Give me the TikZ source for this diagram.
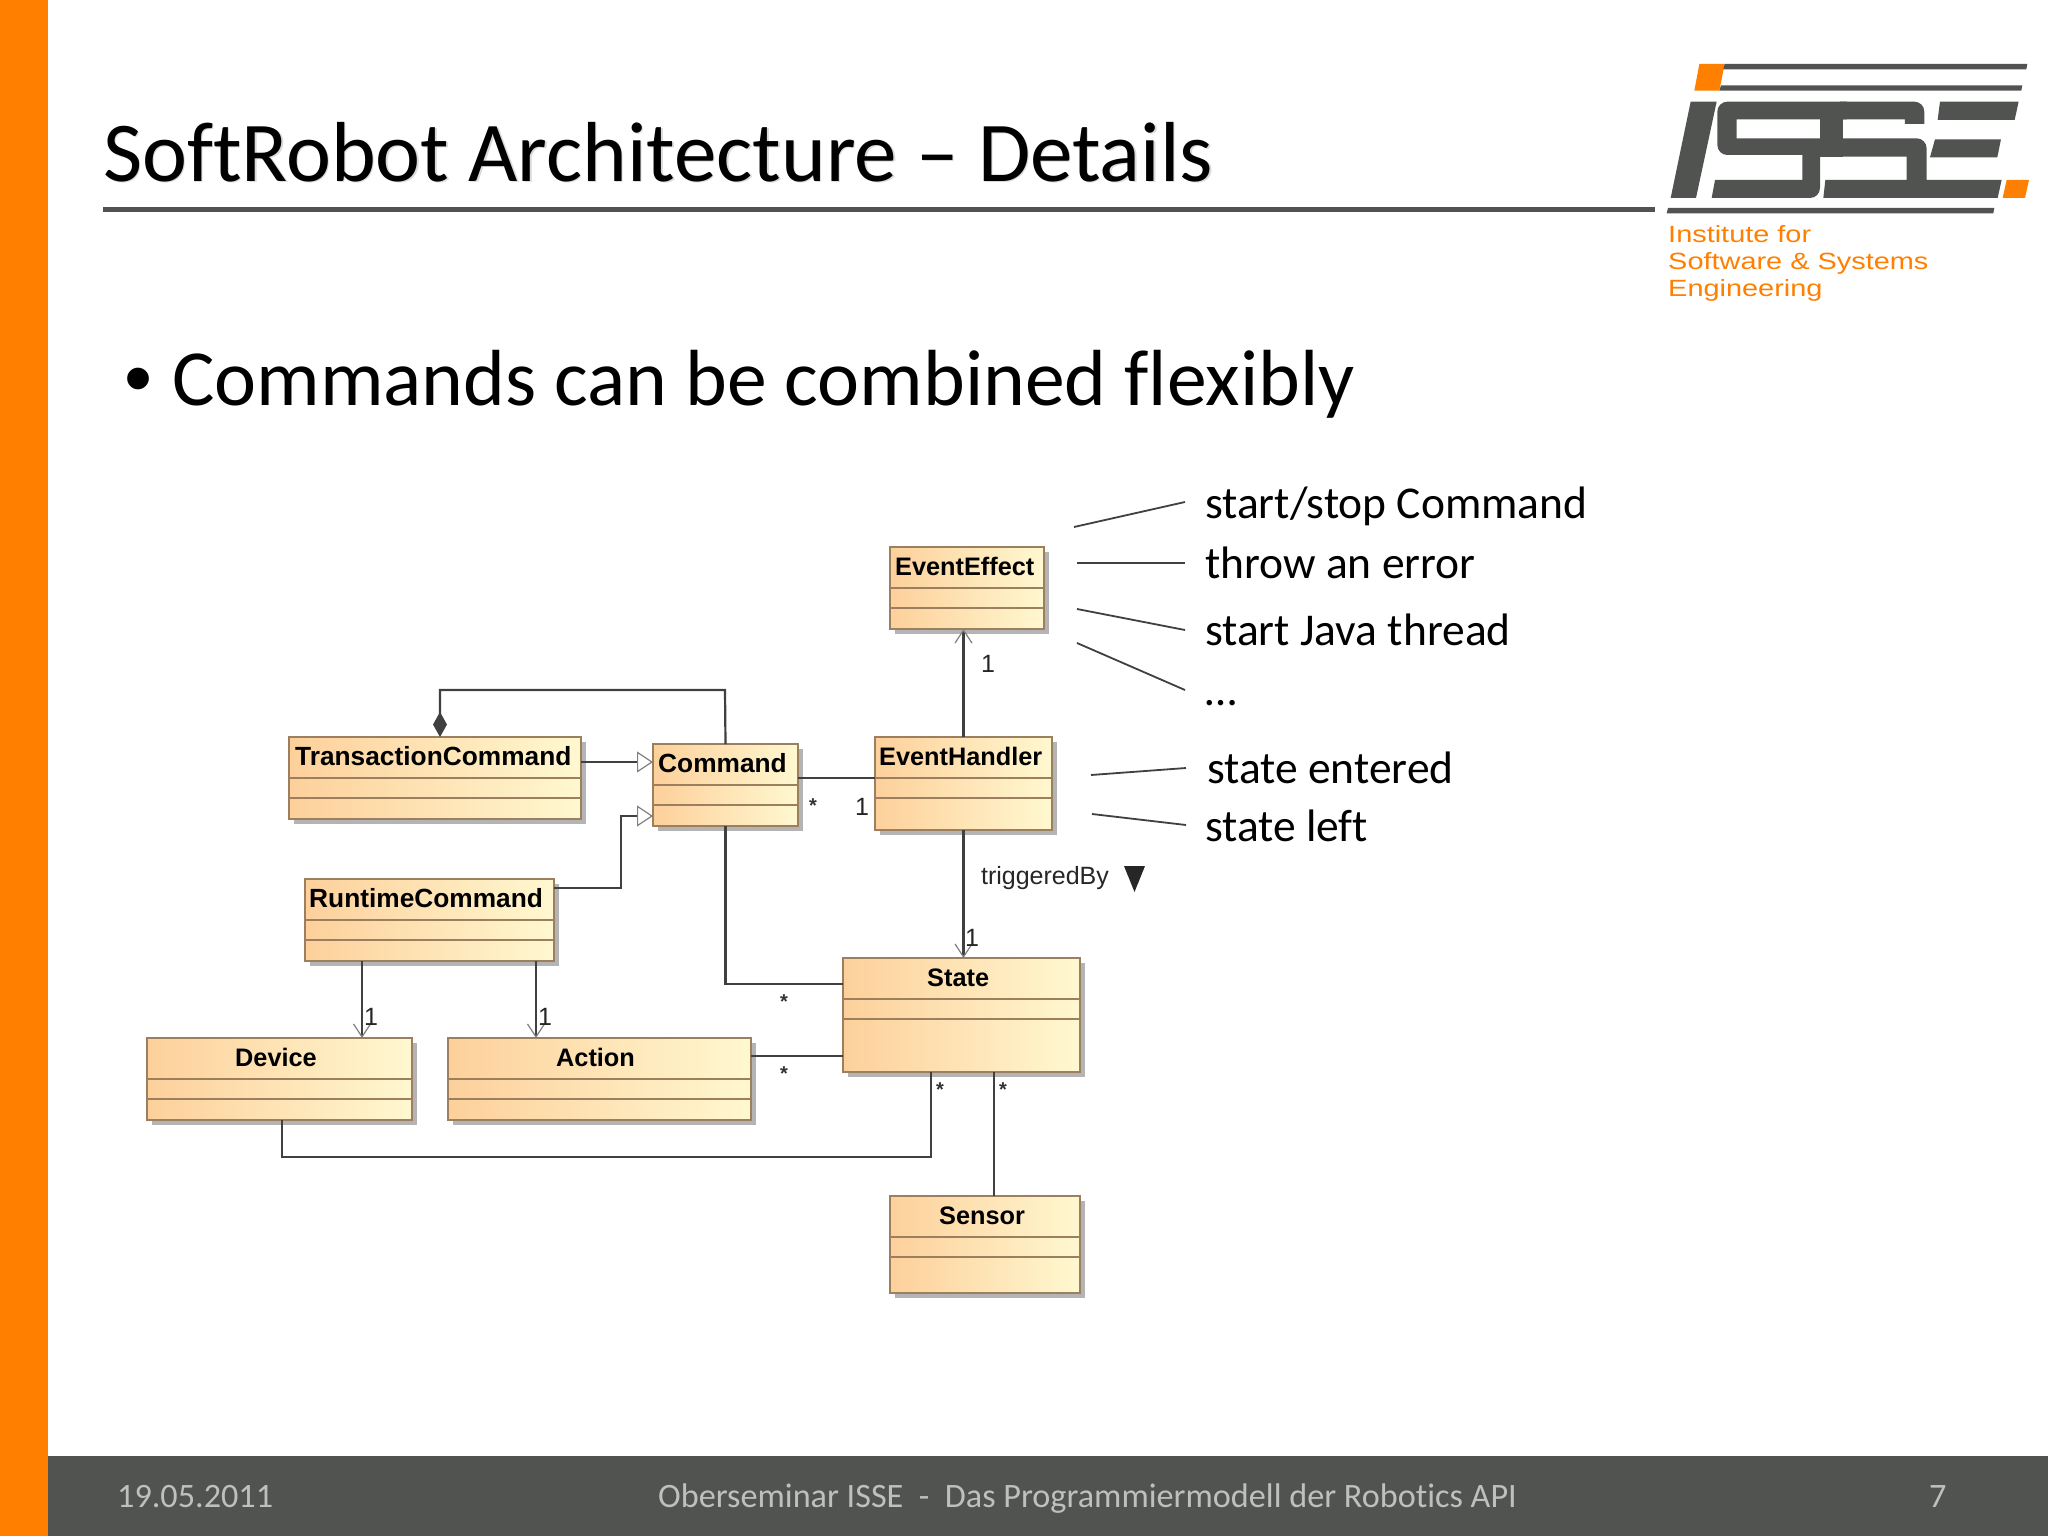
\documentclass[tikz,border=0pt]{standalone}
\usepackage{fontspec}
\setmainfont[Ligatures=NoCommon]{Carlito}
\newfontfamily\umlfont{Liberation Sans}
\newfontfamily\logofont[FakeStretch=1.23]{Liberation Sans}
\usetikzlibrary{positioning,arrows.meta}
\definecolor{issegray}{HTML}{505350}
\definecolor{isseorange}{HTML}{FF8000}
\definecolor{classleft}{HTML}{FDD09B}
\definecolor{classright}{HTML}{FFF8D0}
\definecolor{classedge}{HTML}{9C7F5F}
\definecolor{classshade}{HTML}{B4B4B4}
\definecolor{linkgray}{HTML}{404040}
\tikzstyle{classbox}=[draw=classedge,line width=2pt,left color=classleft,right color=classright,inner sep=0pt,outer sep=0pt,anchor=north west]
\tikzstyle{classshadow}=[fill=classshade,inner sep=0pt,outer sep=0pt,anchor=north west,xshift=5pt,yshift=-5pt]
\tikzstyle{classrule}=[draw=classedge,line width=2pt]
\tikzstyle{classtitle}=[font=\umlfont\bfseries\fontsize{25.3}{30}\selectfont,inner sep=0pt,anchor=base west,yshift=-28pt]
\tikzstyle{widetitle}=[font=\umlfont\bfseries\fontsize{26.3}{30}\selectfont]
\tikzstyle{link}=[draw=linkgray,line width=2.2pt]
\tikzstyle{mult}=[font=\umlfont\fontsize{25}{30}\selectfont,text=black!85,inner sep=0pt]
\tikzstyle{star}=[font=\umlfont\bfseries\fontsize{20}{24}\selectfont,text=black!80,inner sep=0pt,anchor=base]
\tikzstyle{note}=[font=\fontsize{45.5}{54}\selectfont,inner sep=0pt,anchor=west]
\tikzstyle{noteline}=[draw=linkgray,line width=1.8pt]
\tikzstyle{footer}=[font=\fontsize{34.2}{40}\selectfont,text=black!25,inner sep=0pt,anchor=base west]
\tikzstyle{logotext}=[font=\logofont\fontsize{23.5}{27}\selectfont,text=isseorange,inner sep=0pt,anchor=base west]
\newcommand{\newClass}[6]{
  \node[classshadow,minimum width=#4pt,minimum height=#5pt](#1-shadow) at (#3){};
  \node[classbox,minimum width=#4pt,minimum height=#5pt](#1) at (#3){};
  \draw[classrule] ([yshift=-41pt]#1.north west) -- ([yshift=-41pt]#1.north east);
  \draw[classrule] ([yshift=-61pt]#1.north west) -- ([yshift=-61pt]#1.north east);
  \node[classtitle,#6](#1-title) at (#1.north west){#2};
}
\newcommand{\newNote}[3]{
  \node[note](#1) at (#2){#3};
}
\begin{document}
\begin{tikzpicture}[x=1pt,y=-1pt,
    navi/.style={-{Straight Barb[length=13pt,width=17pt,color=gray,line width=1.2pt]}},
    inherit/.style={-{Triangle[open,length=16pt,width=21pt,color=gray,line width=1.2pt,fill=white]}},
    compose/.style={{Diamond[length=25pt,width=14pt,color=linkgray]}-}
    ]
    \useasboundingbox (0,0) rectangle (2048,1536);
    \fill[white] (0,0) rectangle (2048,1536);
    \fill[issegray] (48,1456) rectangle (2048,1536);
    \fill[isseorange] (0,0) rectangle (48,1536);
    \fill[issegray] (103,207) rectangle (1655,212);
    \node[font=\fontsize{85.2}{100}\selectfont,text=black!14,inner sep=0pt,anchor=base west](titleshade) at (104.5,182.5){SoftRobot Architecture – Details};
    \node[font=\fontsize{85.2}{100}\selectfont,inner sep=0pt,anchor=base west](title) at (103,181){SoftRobot Architecture – Details};
    \node[font=\umlfont\fontsize{80}{90}\selectfont,inner sep=0pt,anchor=base west](bulletmark) at (124,405){•};
    \node[font=\fontsize{79.6}{90}\selectfont,inner sep=0pt,anchor=base west](bullet) at (172,405){Commands can be combined flexibly};
    \begin{scope}[shift={(1640,40)},x=0.3333pt,y=-0.3333pt]
      \fill[isseorange] (178,72) -- (254,72) -- (238,152) -- (163,152) -- cycle;
      \fill[isseorange] (1100,420) -- (1167,420) -- (1155,474) -- (1088,474) -- cycle;
      \fill[issegray] (254,72) -- (1162,72) -- (1159,88) -- (250,88) -- cycle;
      \fill[issegray] (243,136) -- (1147,136) -- (1144,152) -- (238,152) -- cycle;
      \fill[issegray] (84,504) -- (1063,504) -- (1060,520) -- (80,520) -- cycle;
      \fill[issegray] (152,185) -- (230,185) -- (168,474) -- (92,474) -- cycle;
      \fill[issegray] (900,185) -- (1136,185) -- (1124,240) -- (893,240) -- cycle;
      \fill[issegray] (885,298) -- (1083,298) -- (1072,352) -- (870,352) -- cycle;
      \fill[issegray] (620,185) [rounded corners=10pt] -- (232,185) -- (232,345) [sharp corners] -- (545,345) -- (545,295) -- (290,295) -- (290,238) -- (620,238) -- cycle;
      \fill[issegray] (540,238) rectangle (610,350);
      \fill[issegray] (487,345) -- (540,345) [rounded corners=10pt] -- (540,474) [sharp corners] -- (215,474) -- (225,420) -- (487,420) -- cycle;
      \fill[issegray] (600,185) [rounded corners=10pt] -- (853,185) [sharp corners] -- (853,252) -- (795,252) -- (795,238) -- (600,238) -- cycle;
      \fill[issegray] (545,295) [rounded corners=10pt] -- (860,295) [sharp corners] -- (860,420) -- (1085,420) -- (1073,474) -- (550,474) -- (556,420) -- (800,420) -- (800,350) -- (545,350) -- cycle;
    \end{scope}
    \node[logotext](logoa) at (1668,242){Institute for};
    \node[logotext](logob) at (1668,269){Software \& Systems};
    \node[logotext](logoc) at (1668,296){Engineering};
    \newClass{eventeffect}{EventEffect}{890,547}{154}{82}{xshift=5pt}
    \newClass{eventhandler}{EventHandler}{875,737}{177}{93}{xshift=4pt}
    \newClass{transactioncommand}{TransactionCommand}{289,737}{292}{82}{xshift=6pt,widetitle}
    \newClass{command}{Command}{653,744}{145}{82}{xshift=5pt,widetitle}
    \newClass{runtimecommand}{RuntimeCommand}{305,879}{249}{82}{xshift=4pt,widetitle}
    \newClass{device}{Device}{147,1038}{265}{82}{xshift=88pt}
    \newClass{action}{Action}{448,1038}{303}{82}{xshift=108pt}
    \newClass{state}{State}{843,958}{237}{114}{xshift=84pt}
    \newClass{sensor}{Sensor}{890,1196}{190}{97}{xshift=49pt}
    \draw[link,compose] (transactioncommand.north -| 440,0) -- (440,690) -- (725,690) -- (command.north);
    \draw[link,inherit] (transactioncommand.east |- 0,762) -- (command.west |- 0,762);
    \draw[link,inherit] (runtimecommand.east |- 0,888) -- (621,888) -- (621,816) -- (command.west |- 0,816);
    \draw[link] (command.south) |- (state.west |- 0,984);
    \draw[link] (command.east |- 0,778) -- (eventhandler.west |- 0,778);
    \draw[link,navi] (eventhandler.north) -- (eventhandler.north |- eventeffect.south);
    \draw[link,navi] (eventhandler.south) -- (eventhandler.south |- state.north);
    \draw[link,navi] (runtimecommand.south -| 362,0) -- (device.north -| 362,0);
    \draw[link,navi] (runtimecommand.south -| 536,0) -- (action.north -| 536,0);
    \draw[link] (action.east |- 0,1056) -- (state.west |- 0,1056);
    \draw[link] (device.south -| 282,0) -- (282,1157) -- (931,1157) -- (state.south -| 931,0);
    \draw[link] (state.south -| 994,0) -- (sensor.north -| 994,0);
    \node[mult](effectone) at (988,664){1};
    \node[mult](handlerone) at (862,807){1};
    \node[mult](stateone) at (972,938){1};
    \node[mult](deviceone) at (371,1017){1};
    \node[mult](actionone) at (545,1017){1};
    \node[mult](triggered) at (1045,878){triggeredBy};
    \fill[black!85] (1124,866) -- (1145,866) -- (1134.5,892) -- cycle;
    \node[star](commandstar) at (813,812){*};
    \node[star](statestara) at (784,1008){*};
    \node[star](statestarb) at (784,1080){*};
    \node[star](statestarc) at (940,1096){*};
    \node[star](statestard) at (1003,1096){*};
    \newNote{startstop}{1205,506}{start/stop Command}
    \newNote{throwerror}{1205,563}{throw an error}
    \newNote{javathread}{1205,630}{start Java thread}
    \newNote{ellipsis}{1205,703}{…}
    \newNote{stateentered}{1207,768}{state entered}
    \newNote{stateleft}{1205,826}{state left}
    \coordinate (effecta) at (1074,527);
    \coordinate (effectb) at (1077,563);
    \coordinate (effectc) at (1077,609);
    \coordinate (effectd) at (1077,643);
    \coordinate (handlera) at (1091,775);
    \coordinate (handlerb) at (1092,814);
    \draw[noteline] (effecta) -- ([xshift=-20pt,yshift=4pt]startstop.west);
    \draw[noteline] (effectb) -- ([xshift=-20pt]throwerror.west);
    \draw[noteline] (effectc) -- ([xshift=-20pt]javathread.west);
    \draw[noteline] (effectd) -- ([xshift=-20pt,yshift=13pt]ellipsis.west);
    \draw[noteline] (handlera) -- ([xshift=-21pt]stateentered.west);
    \draw[noteline] (handlerb) -- ([xshift=-19pt,yshift=1pt]stateleft.west);
    \node[footer](date) at (117,1507){19.05.2011};
    \node[footer](seminar) at (658,1507){Oberseminar ISSE~~-~~Das Programmiermodell der Robotics API};
    \node[footer](pagenum) at (1929,1507){7};
  \end{tikzpicture}
\end{document}
